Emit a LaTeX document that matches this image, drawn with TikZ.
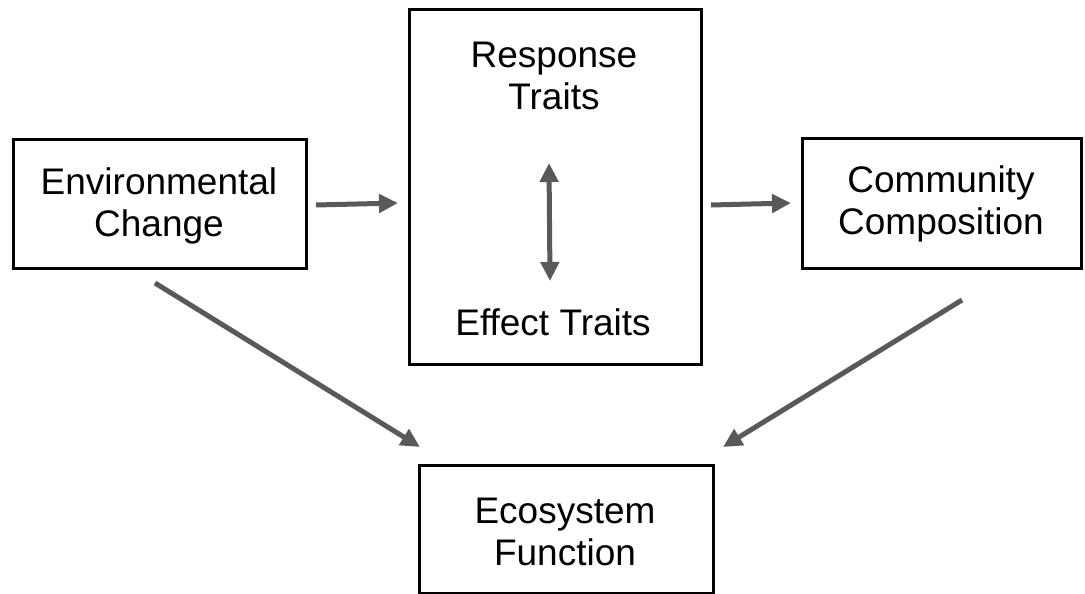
\documentclass[tikz,border=0pt]{standalone}
\usepackage{fontspec}
\setmainfont{Liberation Sans}
\usetikzlibrary{arrows.meta}
\begin{document}
\begin{tikzpicture}[x=1pt,y=-1pt,
  box/.style={draw=black,line width=3pt,inner sep=0pt,anchor=north west},
  lbl/.style={font=\fontsize{37}{42}\selectfont,align=center,inner sep=0pt},
  arr/.style={draw=arrgray,line width=5pt,-{Triangle[length=19pt,width=18pt]}},
  darr/.style={draw=arrgray,line width=5pt,{Triangle[length=19pt,width=18pt]}-{Triangle[length=19pt,width=18pt]}}]
\definecolor{arrgray}{HTML}{595959}
\useasboundingbox (0,0) rectangle (1085,594);
% boxes
\node[box,minimum width=293pt,minimum height=129pt] (env) at (12,138) {};
\node[box,minimum width=292pt,minimum height=355pt] (mid) at (408,8) {};
\node[box,minimum width=279pt,minimum height=130pt] (com) at (801,137) {};
\node[box,minimum width=294pt,minimum height=128pt] (eco) at (418,464) {};
% labels
\node[lbl] (envt) at (159,206) {Environmental\\Change};
\node[lbl] (resp) at (554,76) {Response\\Traits};
\node[lbl] (eff) at (553,322) {Effect Traits};
\node[lbl] (comt) at (941,204) {Community\\Composition};
\node[lbl] (ecot) at (565,532) {Ecosystem\\Function};
% connector ends
\coordinate (a1) at (316,205);
\coordinate (a2) at (398,203);
\coordinate (b1) at (711,205);
\coordinate (b2) at (791,203);
\coordinate (c1) at (549,163);
\coordinate (c2) at (550,281);
\coordinate (d1) at (155,283);
\coordinate (d2) at (420,447);
\coordinate (e1) at (962,300);
\coordinate (e2) at (723,447);
% connectors
\draw[arr] (a1) -- (a2);
\draw[arr] (b1) -- (b2);
\draw[darr] (c1) -- (c2);
\draw[arr] (d1) -- (d2);
\draw[arr] (e1) -- (e2);
\end{tikzpicture}
\end{document}
